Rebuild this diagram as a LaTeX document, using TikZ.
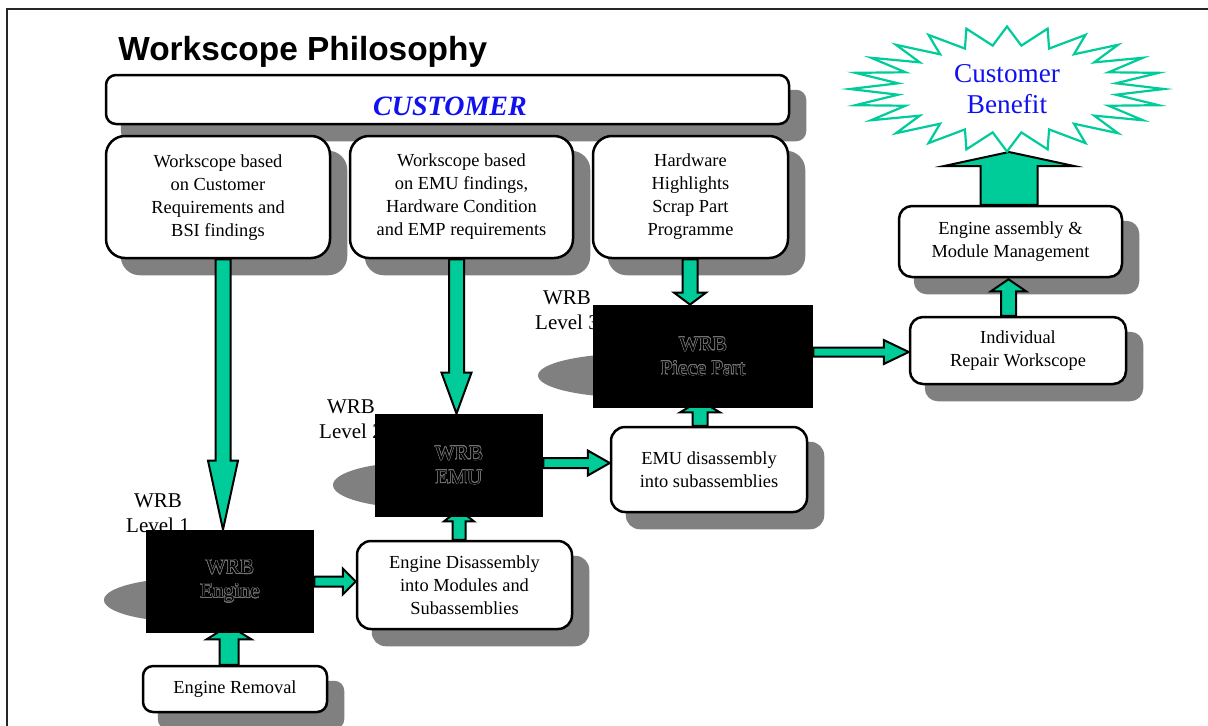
\documentclass[tikz,border=0pt]{standalone}
\usepackage{fontspec}
\setmainfont{Liberation Serif}
\newfontfamily\titlefont{Liberation Sans}
\usepackage[copies]{contour}
\usetikzlibrary{calc}
\definecolor{grn}{HTML}{00CC99}
\definecolor{shc}{HTML}{808080}
\definecolor{custblue}{HTML}{1010F0}
\contourlength{0.25pt}
\contournumber{16}
\pgfdeclarelayer{shadowlayer}
\pgfdeclarelayer{arrowlayer}
\pgfsetlayers{shadowlayer,arrowlayer,main}
\newcommand\hollow[1]{\contour{black!55}{#1}}
\newcommand\shadowof[2]{\fill[shc, rounded corners=#2] ($(#1.south west)+(16,16)$) rectangle ($(#1.north east)+(16,16)$);}
% vertical / horizontal block arrows: from, to, shaft half, head half, head length
\newcommand\arrdown[5]{\draw[arr] let \p1=(#1), \p2=(#2) in (\x1-#3,\y1) -- (\x1-#3,\y2+#5) -- (\x1-#4,\y2+#5) -- (\x1,\y2) -- (\x1+#4,\y2+#5) -- (\x1+#3,\y2+#5) -- (\x1+#3,\y1) -- cycle;}
\newcommand\arrup[5]{\draw[arr] let \p1=(#1), \p2=(#2) in (\x1-#3,\y1) -- (\x1-#3,\y2-#5) -- (\x1-#4,\y2-#5) -- (\x1,\y2) -- (\x1+#4,\y2-#5) -- (\x1+#3,\y2-#5) -- (\x1+#3,\y1) -- cycle;}
\newcommand\arrright[5]{\draw[arr] let \p1=(#1), \p2=(#2) in (\x1,\y1-#3) -- (\x2-#5,\y1-#3) -- (\x2-#5,\y1-#4) -- (\x2,\y1) -- (\x2-#5,\y1+#4) -- (\x2-#5,\y1+#3) -- (\x1,\y1+#3) -- cycle;}
\tikzset{
  arr/.style={fill=grn, draw=black, line width=1pt, line join=miter},
  boxfont/.style={font=\fontsize{9.2}{11.5}\selectfont},
  wbox/.style={draw=black, line width=1.25pt, fill=white, rounded corners=#1, align=center, inner sep=0pt, boxfont},
  wbox/.default=9.5pt,
  bbox/.style={fill=black, inner sep=0pt, align=center, text=black, font=\fontsize{10.5}{12}\selectfont},
  wrblabel/.style={inner sep=0pt, align=center, font=\fontsize{10.5}{12.5}\selectfont},
}
\begin{document}
\begin{tikzpicture}[x=0.5pt,y=-0.5pt]
\useasboundingbox (0,0) rectangle (1208,725);
% frame
\draw[line width=1pt, black!85] (7,740) -- (7,9) -- (1220,9);
% title
\node[anchor=base west, inner sep=0pt, font=\titlefont\bfseries\fontsize{16.7}{20}\selectfont] (title) at (118,60) {Workscope Philosophy};
% customer bar
\node[wbox=5pt, minimum width=341.5pt, minimum height=24.5pt] (bar) at (447.5,99.5) {};
\node[inner sep=0pt, text=custblue, font=\bfseries\itshape\fontsize{14}{16}\selectfont] (custtext) at (450,106) {CUSTOMER};
% top boxes
\node[wbox, minimum width=112pt, minimum height=61pt, text depth=1.5pt] (b1) at (218,197) {Workscope based\\on Customer\\Requirements and\\BSI findings};
\node[wbox, minimum width=111.5pt, minimum height=61pt] (b2) at (461.5,197) {Workscope based\\on EMU findings,\\Hardware Condition\\and EMP requirements};
\node[wbox, minimum width=97.5pt, minimum height=61pt] (b3) at (690.5,197) {Hardware\\Highlights\\Scrap Part\\Programme};
% WRB labels
\node[wrblabel] (l1) at (158,513.5) {WRB\\Level 1};
\node[wrblabel] (l2) at (351,419) {WRB\\Level 2};
\node[wrblabel] (l3) at (567,310.5) {WRB\\Level 3};
% black WRB boxes
\node[bbox, minimum width=84pt, minimum height=51.5pt] (weng) at (230,581.5) {\hollow{WRB}\\\hollow{Engine}};
\node[bbox, minimum width=84pt, minimum height=51.5pt] (emu) at (459,465.5) {\hollow{WRB}\\\hollow{EMU}};
\node[bbox, minimum width=110pt, minimum height=51.5pt] (pp) at (703,356.5) {\hollow{WRB}\\\hollow{Piece Part}};
% process boxes
\node[wbox=5pt, minimum width=92pt, minimum height=23pt] (er) at (235,689) {Engine Removal};
\node[wbox=7pt, minimum width=107.5pt, minimum height=44pt] (ed) at (464.5,585) {Engine Disassembly\\into Modules and\\Subassemblies};
\node[wbox=7pt, minimum width=98pt, minimum height=42.5pt] (emud) at (709,469.5) {EMU disassembly\\into subassemblies};
\node[wbox=6.5pt, minimum width=108pt, minimum height=33.5pt] (indiv) at (1018,350.5) {Individual\\Repair Workscope};
\node[wbox=6.5pt, minimum width=111.5pt, minimum height=35.5pt] (eassy) at (1010.5,241.5) {Engine assembly \&\\Module Management};
% starburst
\draw[draw=grn, line width=1.1pt, fill=white, line join=miter] (1164,89)
  \foreach \i in {1,...,47}{ -- ({1007+(1-0.3*mod(\i,2))*157*cos(\i*7.5)},{89+(1-0.3*mod(\i,2))*62.5*sin(\i*7.5)}) } -- cycle;
\node[inner sep=0pt, align=center, text=custblue, font=\fontsize{13.6}{15.5}\selectfont] (cb) at (1007,89) {Customer\\Benefit};
\coordinate (sb) at (1009,152);
% shadows
\begin{pgfonlayer}{shadowlayer}
\shadowof{bar}{5pt}
\shadowof{b1}{9.5pt}
\shadowof{b2}{9.5pt}
\shadowof{b3}{9.5pt}
\shadowof{er}{5pt}
\shadowof{ed}{7pt}
\shadowof{emud}{7pt}
\shadowof{indiv}{6.5pt}
\shadowof{eassy}{6.5pt}
\fill[shc] (189,600) ellipse [x radius=42.5pt, y radius=11pt];
\fill[shc] (418,485) ellipse [x radius=42.5pt, y radius=11.5pt];
\fill[shc] (633,375.5) ellipse [x radius=47.5pt, y radius=11pt];
\end{pgfonlayer}
% arrows
\begin{pgfonlayer}{arrowlayer}
\arrdown{$(b1.south)+(5,0)$}{weng.north}{3.75pt}{7.5pt}{34.5pt}
\arrdown{$(b2.south)+(-5,0)$}{emu.north}{3.75pt}{7.5pt}{20.5pt}
\arrdown{$(b3.south)+(-0.5,0)$}{pp.north}{3.75pt}{8pt}{6pt}
\arrup{$(er.north)+(-6,0)$}{$(weng.south)+(0,-8)$}{4.75pt}{11.25pt}{7pt}
\arrup{$(ed.north)+(-5.5,0)$}{$(emu.south)+(0,-8)$}{3.25pt}{7.5pt}{6pt}
\arrup{$(emud.north)+(-9,0)$}{$(pp.south)+(0,-8)$}{3.75pt}{10pt}{6pt}
\arrup{$(indiv.north)+(-9.5,0)$}{$(eassy.south)+(0,1)$}{3.75pt}{8.75pt}{6pt}
\arrright{weng.east}{ed.west}{2.5pt}{6.5pt}{6.5pt}
\arrright{$(emu.east)+(0,-2.5)$}{emud.west}{2.5pt}{6.25pt}{11pt}
\arrright{$(pp.east)+(0,-4.5)$}{indiv.west}{2.25pt}{6pt}{12.5pt}
\arrup{$(eassy.north)+(-1.5,0)$}{sb}{14.25pt}{32.5pt}{7pt}
\end{pgfonlayer}
\end{tikzpicture}
\end{document}
